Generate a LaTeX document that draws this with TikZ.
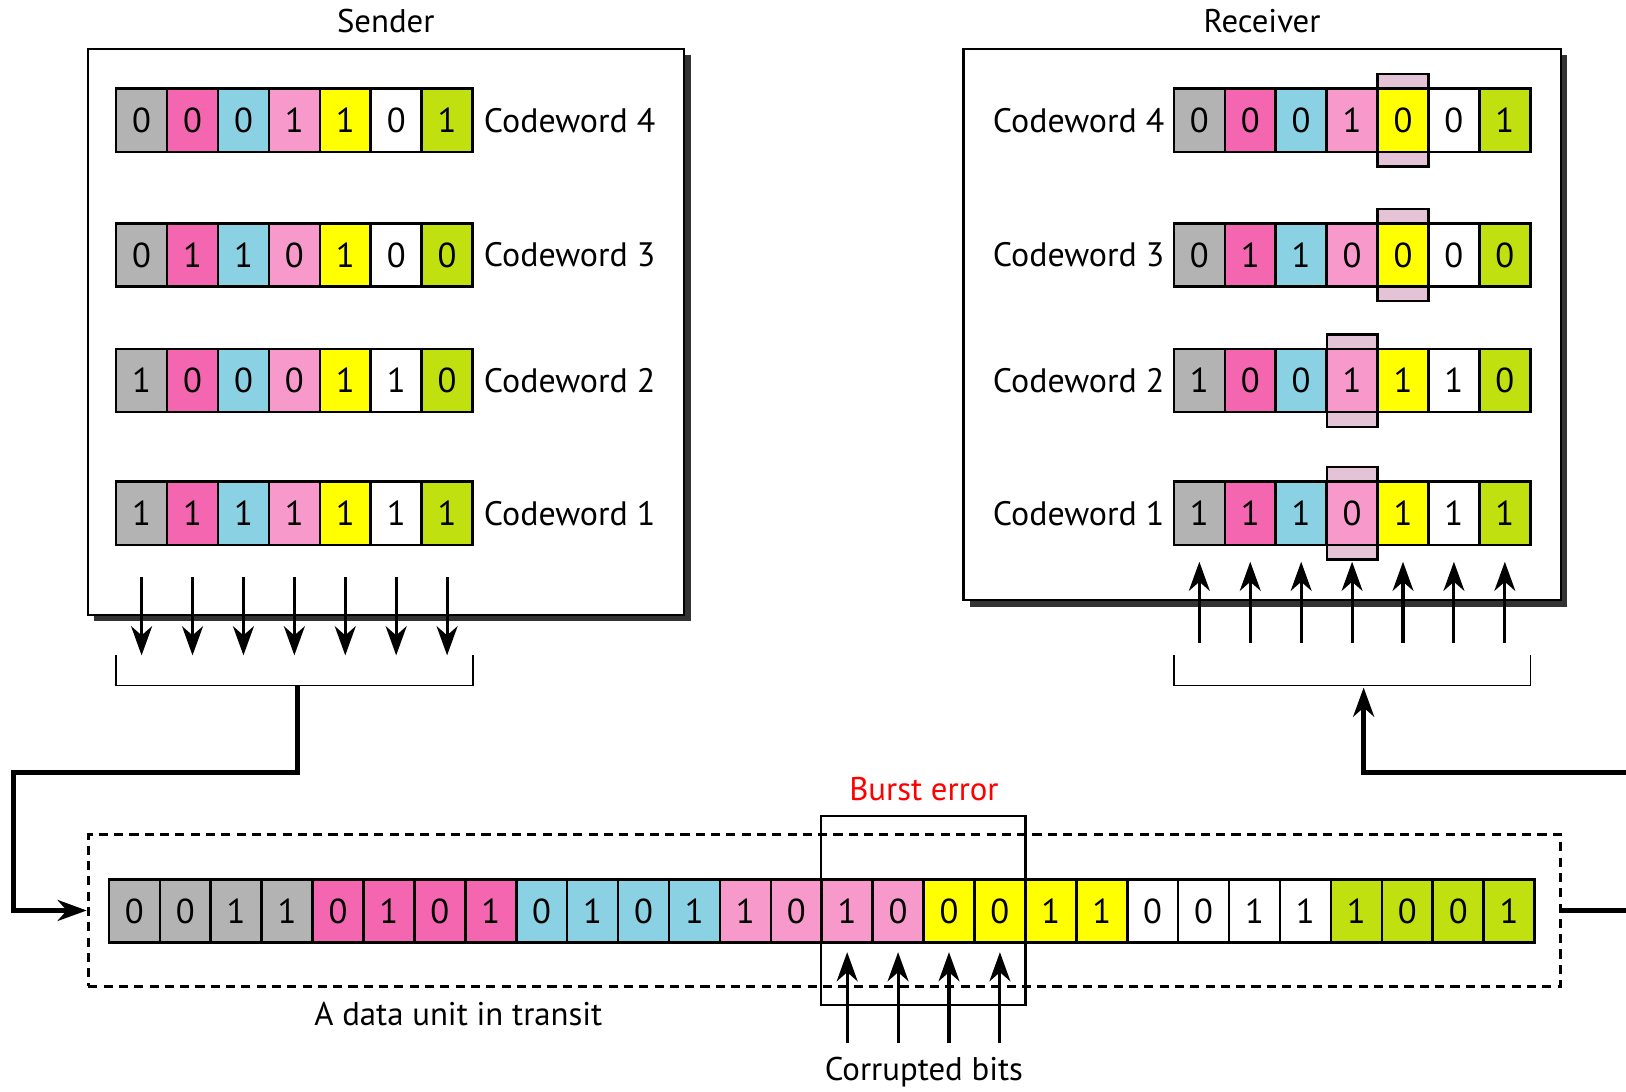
\documentclass[tikz,border=0pt]{standalone}
\usepackage{fontspec}
\setmainfont{PT Sans}
\usetikzlibrary{arrows.meta,positioning,calc,shadows}
\definecolor{c1}{HTML}{B3B3B3}
\definecolor{c2}{HTML}{F566B0}
\definecolor{c3}{HTML}{89D1E3}
\definecolor{c4}{HTML}{F79ACB}
\definecolor{c5}{HTML}{FFFF00}
\definecolor{c6}{HTML}{FFFFFF}
\definecolor{c7}{HTML}{C1E00F}
\definecolor{mauve}{HTML}{E5C3D6}

\begin{document}
\begin{tikzpicture}[x=0.02cm, y=-0.02cm,
  font=\fontsize{18}{21}\selectfont,
  bit/.style={draw, line width=1.4pt, inner sep=0pt, minimum width=0.982cm, minimum height=1.22cm,
    font=\fontsize{19}{22}\selectfont},
  cwlabel/.style={font=\fontsize{18.6}{22}\selectfont},
  flip/.style={draw, line width=1.2pt, fill=mauve, inner sep=0pt, minimum width=0.982cm, minimum height=1.78cm},
  panel/.style={draw, line width=1.2pt, fill=white, inner sep=0pt,
    drop shadow={shadow xshift=3.4pt, shadow yshift=-3.4pt, fill=black!80, opacity=1}},
  tip/.style={line width=1.7pt, -{Stealth[length=16pt,width=11.5pt,inset=5pt]}},
  link/.style={line width=2.5pt},
  bracket/.style={line width=0.9pt}]
  \useasboundingbox (0,0) rectangle (1568,1053);

  \node (stitle) at (372,20) {Sender};
  \node (rtitle) at (1217,20) {Receiver};
  \node[panel, minimum width=11.5cm, minimum height=10.92cm] (sender) at (372.5,320) {};
  \node[panel, minimum width=11.52cm, minimum height=10.64cm] (receiver) at (1217,313) {};

  % sender codewords, bottom row first
  \foreach \r/\y/\bits in {1/495/{1,1,1,1,1,1,1}, 2/367/{1,0,0,0,1,1,0},
                           3/246/{0,1,1,0,1,0,0}, 4/116/{0,0,0,1,1,0,1}} {
    \foreach [count=\i] \b in \bits
      \node[bit, fill=c\i] (s\r-\i) at ({112+49.1*(\i-0.5)},\y) {\b};
    \node[cwlabel, anchor=west, xshift=2pt] (sl\r) at (s\r-7.east) {Codeword \r};
  }

  % receiver codewords, flipped column behind
  \foreach \r/\y/\hc/\bits in {1/495/4/{1,1,1,0,1,1,1}, 2/367/4/{1,0,0,1,1,1,0},
                               3/246/5/{0,1,1,0,0,0,0}, 4/116/5/{0,0,0,1,0,0,1}} {
    \node[flip] (h\r) at ({1132+49.1*(\hc-0.5)},\y) {};
    \foreach [count=\i] \b in \bits
      \node[bit, fill=c\i] (r\r-\i) at ({1132+49.1*(\i-0.5)},\y) {\b};
    \node[cwlabel, anchor=east, xshift=-1pt] (rl\r) at (r\r-1.west) {Codeword \r};
  }

  % brackets
  \coordinate (sbl) at (112,632);
  \coordinate (sbr) at (456,632);
  \coordinate (rbl) at (1132,632);
  \coordinate (rbr) at (1476,632);
  \draw[bracket] (sbl) -- ++(0,29) -| (sbr);
  \draw[bracket] (rbl) -- ++(0,29) -| (rbr);
  \foreach \i in {1,...,7} {
    \draw[tip] ($(s1-\i.south)+(0,30)$) -- (s1-\i.south |- sbl);
    \draw[tip] ($(r1-\i.south)+(0,93)$) -- ($(r1-\i.south)+(0,15)$);
  }

  % data unit in transit
  \node[draw, dashed, line width=1.7pt, dash pattern=on 5pt off 3.4pt,
        minimum width=28.4cm, minimum height=2.92cm] (transit) at (795,878) {};
  \foreach [count=\i] \b in {0,0,1,1,0,1,0,1,0,1,0,1,1,0,1,0,0,0,1,1,0,0,1,1,1,0,0,1} {
    \pgfmathtruncatemacro\k{int((\i-1)/4)+1}
    \node[bit, fill=c\k] (d\i) at ({105+49.1*(\i-0.5)},878.5) {\b};
  }
  \node[draw, line width=1.2pt, minimum width=3.94cm, minimum height=3.64cm] (burst) at (890.5,878) {};
  \node[red] (bursttxt) at (891,761) {Burst error};
  \foreach \i in {15,...,18}
    \draw[tip] ($(d\i.south)+(0,96)$) -- ($(d\i.south)+(0,8)$);
  \node (corr) at (891,1034) {Corrupted bits};
  \node (unitlbl) at (442,978) {A data unit in transit};

  % links
  \coordinate (sbm) at (287,661);
  \coordinate (bendL) at (13,745);
  \coordinate (rbm) at (1315,663);
  \coordinate (edgeR) at (1568,745);
  \coordinate (edgeE) at (1568,878);
  \draw[link, -{Stealth[length=16pt,width=11.5pt,inset=5pt]}] (sbm) |- (bendL) |- (transit.west);
  \draw[link, -{Stealth[length=16pt,width=11.5pt,inset=5pt]}] (edgeR) -| (rbm);
  \draw[link] (transit.east) -- (edgeE);
\end{tikzpicture}
\end{document}
